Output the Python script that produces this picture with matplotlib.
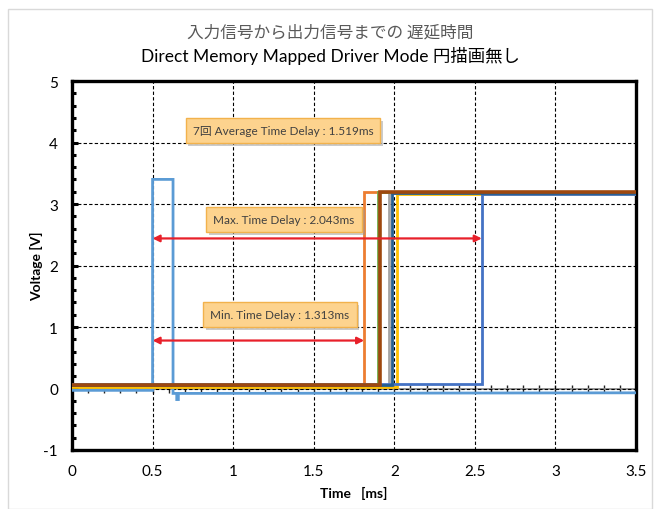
import matplotlib
matplotlib.use("Agg")
import matplotlib.pyplot as plt
import matplotlib.patheffects as pe
from matplotlib.patches import Rectangle
from matplotlib.ticker import MultipleLocator

LATIN = ["Lato", "Noto Sans CJK JP", "DejaVu Sans"]
CJK = ["Noto Sans CJK JP", "DejaVu Sans"]
plt.rcParams["font.family"] = LATIN

# ---- data -------------------------------------------------------------
title_line1 = "入力信号から出力信号までの 遅延時間"
title_line2 = "Direct Memory Mapped Driver Mode 円描画無し"
x_label = "Time   [ms]"
y_label = "Voltage [V]"

x_ticks = [0, 0.5, 1, 1.5, 2, 2.5, 3, 3.5]
y_ticks = [-1, 0, 1, 2, 3, 4, 5]

# input pulse (time [ms], voltage [V])
input_t = [0.0, 0.5, 0.5, 0.627, 0.627, 0.65, 0.65, 0.66, 0.66, 3.5]
input_v = [-0.03, -0.03, 3.40, 3.40, -0.08, -0.08, -0.18, -0.18, -0.08, -0.07]

# output traces: rising edge [ms], low level, high level, colour
out_names = ["run1", "run2", "run3", "run4", "run5", "run6", "run7"]
out_rise = [1.813, 1.969, 2.014, 2.543, 1.900, 1.987, 1.910]
out_low = [0.05, 0.04, 0.02, 0.07, 0.05, 0.05, 0.06]
out_high = [3.19, 3.18, 3.17, 3.17, 3.19, 3.18, 3.19]
out_color = ["#ED7D31", "#A5A5A5", "#FFC000", "#4472C4", "#70AD47", "#255E91", "#9E480E"]
out_width = [2.0, 2.0, 2.0, 2.0, 2.0, 2.0, 2.6]
input_color = "#5B9BD5"
input_edge = 0.5

# ---- derived delays ---------------------------------------------------
delays = [r - input_edge for r in out_rise]
min_delay = min(delays)
max_delay = max(delays)
avg_delay = sum(delays) / len(delays)

# ---- figure -----------------------------------------------------------
fig = plt.figure(figsize=(6.6, 5.1), dpi=100)
fig.patches.append(Rectangle((8 / 660, 0.0), 644 / 660, 1 - 10 / 510,
                             transform=fig.transFigure, fill=False,
                             edgecolor="#D9D9D9", linewidth=1.0))
ax = fig.add_axes([72 / 660, 59 / 510, 564 / 660, 369 / 510])

ax.set_xlim(0, 3.5)
ax.set_ylim(-1, 5)
ax.set_xticks(x_ticks)
ax.set_yticks(y_ticks)
ax.set_xticklabels([f"{v:g}" for v in x_ticks])
ax.set_yticklabels([f"{v:g}" for v in y_ticks])
ax.yaxis.set_minor_locator(MultipleLocator(0.2))
ax.tick_params(axis="x", length=0, pad=10, labelsize=11, colors="#000000")
ax.tick_params(axis="y", which="major", direction="in", length=4, width=2.2,
               pad=10, labelsize=11)
ax.tick_params(axis="y", which="minor", direction="in", length=3, width=2.2)

for s in ax.spines.values():
    s.set_linewidth(2.4)
    s.set_color("black")

ax.grid(True, which="major", color="black", linestyle=(0, (3, 2)), linewidth=0.8)
ax.set_axisbelow(True)

# horizontal axis line crossing at 0 V
sec = ax.secondary_xaxis(1 / 6)
sec.spines["bottom"].set_color("#8C8C8C")
sec.spines["bottom"].set_linewidth(1.3)
sec.set_xticks(x_ticks)
sec.xaxis.set_minor_locator(MultipleLocator(0.1))
sec.tick_params(which="both", direction="inout", length=6, width=1.0,
                labelbottom=False, color="#222222")

# input trace
ax.plot(input_t, input_v, color=input_color, linewidth=2.0, zorder=3,
        solid_joinstyle="miter")

# output traces
for name, r, lo, hi, c, w in zip(out_names, out_rise, out_low, out_high,
                                 out_color, out_width):
    ax.plot([0.0, r, r, 3.5], [lo, lo, hi, hi], color=c, linewidth=w,
            zorder=3, solid_joinstyle="miter", label=name)

# delay arrows
arrow_kw = dict(arrowstyle="<|-|>", color="#E8202A", lw=1.6,
                shrinkA=0, shrinkB=0, mutation_scale=10)
ax.annotate("", xy=(input_edge, 2.44), xytext=(input_edge + max_delay, 2.44),
            arrowprops=arrow_kw, zorder=5)
ax.annotate("", xy=(input_edge, 0.78), xytext=(input_edge + min_delay, 0.78),
            arrowprops=arrow_kw, zorder=5)

# labels in orange boxes
box_kw = dict(boxstyle="square,pad=0.6", facecolor="#FDD38E",
              edgecolor="#F2B24C", linewidth=1.0)
shadow = [pe.withSimplePatchShadow(offset=(2, -2), shadow_rgbFace="#999999", alpha=0.5)]

def label_box(x, y, text):
    t = ax.text(x, y, text, ha="center", va="center", fontsize=8.5,
                color="#404040", bbox=box_kw, zorder=6, family=LATIN)
    t.get_bbox_patch().set_path_effects(shadow)
    return t

label_box(1.309, 4.19, f"{len(delays)}回 Average Time Delay : {avg_delay:.3f}ms")
label_box(1.316, 2.75, f"Max. Time Delay : {max_delay:.3f}ms")
label_box(1.290, 1.20, f"Min. Time Delay : {min_delay:.3f}ms")

# titles and axis labels
fig.text(0.5, 1 - 33 / 510, title_line1, ha="center", va="center",
         fontsize=12, color="#595959", family=CJK)
fig.text(0.5, 1 - 56 / 510, title_line2, ha="center", va="center",
         fontsize=12.5, color="#000000", family=LATIN)
ax.set_xlabel(x_label, fontsize=10, fontweight="bold", labelpad=6)
ax.set_ylabel(y_label, fontsize=10, fontweight="bold", labelpad=0)

fig.savefig("out.png", dpi=100)
